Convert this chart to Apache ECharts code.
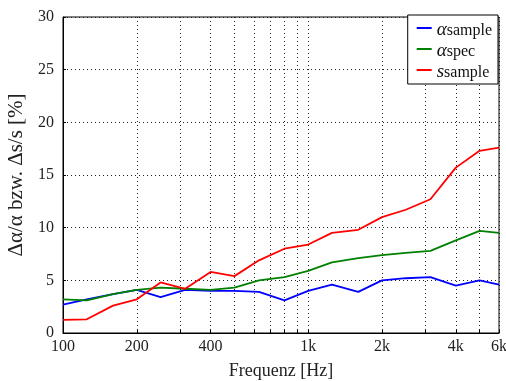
<!DOCTYPE html>
<html><head><meta charset="utf-8">
<script src="https://cdn.jsdelivr.net/npm/echarts@6/dist/echarts.min.js"></script>
<style>html,body{margin:0;padding:0;background:#fff}#c{width:506px;height:381px}</style>
</head><body><div id="c"></div>
<script>
const freqs = [100,125,160,200,250,315,400,500,630,800,1000,1250,1600,2000,2500,3150,4000,5000,6000];
const alphaSample = [2.7,3.2,3.7,4.1,3.4,4.1,4.0,4.0,3.9,3.1,4.0,4.6,3.9,5.0,5.2,5.3,4.5,5.0,4.6];
const alphaSpec   = [3.2,3.1,3.7,4.1,4.3,4.2,4.1,4.3,5.0,5.3,5.9,6.7,7.1,7.4,7.6,7.8,8.8,9.7,9.5];
const sSample     = [1.25,1.3,2.6,3.2,4.8,4.2,5.8,5.4,6.9,8.0,8.4,9.5,9.8,11.0,11.7,12.7,15.7,17.3,17.6];
const xLabelVals = [100,200,400,1000,2000,4000,6000];
const xGridVals = [100,200,300,400,500,600,700,800,900,1000,2000,3000,4000,5000,6000];
const yTicks = [0,5,10,15,20,25,30];

function withLog(a){ return a.concat(a.map(v=>Math.log10(v))); }
function fmtF(v){
  let f = v < 10 ? Math.pow(10, v) : v;
  f = Math.round(f);
  return f >= 1000 ? (f/1000)+'k' : String(f);
}
const pair = a => freqs.map((f,i)=>[f,a[i]]);
const serif = 'Liberation Serif';
const chart = echarts.init(document.getElementById('c'));
chart.setOption({
  animation:false,
  grid:{left:63,right:7,top:17,bottom:48,outerBoundsMode:'none',containLabel:false,show:true,borderColor:'#000',borderWidth:1,backgroundColor:'transparent'},
  xAxis:{type:'log',logBase:10,min:100,max:6000,
    name:'Frequenz [Hz]',nameLocation:'middle',nameGap:29,
    nameTextStyle:{fontFamily:serif,fontSize:18,color:'#222'},
    axisLine:{lineStyle:{color:'#000',width:1}},
    axisTick:{inside:true,length:3,customValues:withLog(xGridVals),lineStyle:{color:'#000'}},
    minorTick:{show:false},
    axisLabel:{customValues:withLog(xLabelVals),formatter:fmtF,fontFamily:serif,fontSize:16,color:'#222',margin:6},
    splitLine:{show:true,lineStyle:{type:[1,3],color:'#222',width:1}}
  },
  yAxis:{type:'value',min:0,max:30,interval:5,
    name:'Δα/α bzw. Δs/s [%]',nameLocation:'middle',nameGap:33,nameRotate:90,
    nameTextStyle:{fontFamily:serif,fontSize:21,color:'#222'},
    axisLine:{show:true,lineStyle:{color:'#000'}},
    axisTick:{inside:true,length:3,lineStyle:{color:'#000'}},
    axisLabel:{fontFamily:serif,fontSize:16,color:'#222',margin:9},
    splitLine:{show:true,lineStyle:{type:[1,3],color:'#222',width:1}}
  },
  legend:{orient:'vertical',right:8,top:15,padding:[5,6,3,9],itemGap:2,
    borderColor:'#000',borderWidth:1,backgroundColor:'#fff',
    icon:'rect',itemWidth:15,itemHeight:2,
    data:['aS','aP','sS'],
    formatter:function(n){
      if(n==='aS') return '{m|α}{s|sample}';
      if(n==='aP') return '{m|α}{s|spec}';
      return '{m|s}{s|sample}';
    },
    textStyle:{rich:{
      m:{fontFamily:serif,fontStyle:'italic',fontSize:19,color:'#111',verticalAlign:'bottom'},
      s:{fontFamily:serif,fontSize:16,color:'#111',padding:[6,0,0,0],verticalAlign:'bottom'}
    }}
  },
  series:[
    {name:'aS',type:'line',data:pair(alphaSample),symbol:'none',lineStyle:{color:'#0000ff',width:1.8},itemStyle:{color:'#0000ff'}},
    {name:'aP',type:'line',data:pair(alphaSpec),symbol:'none',lineStyle:{color:'#008000',width:1.8},itemStyle:{color:'#008000'}},
    {name:'sS',type:'line',data:pair(sSample),symbol:'none',lineStyle:{color:'#ff0000',width:1.8},itemStyle:{color:'#ff0000'}}
  ]
});
</script></body></html>
